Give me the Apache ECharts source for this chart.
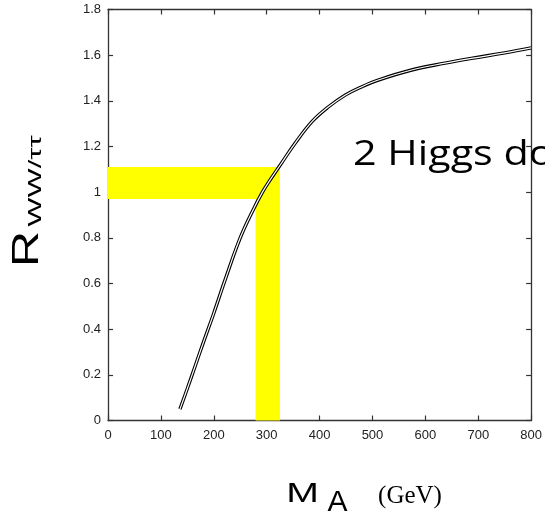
<!DOCTYPE html>
<html>
<head>
<meta charset="utf-8">
<script src="https://cdn.jsdelivr.net/npm/echarts@6/dist/echarts.min.js"></script>
<style>html,body{margin:0;padding:0;background:#fff;}#c{width:545px;height:520px;}</style>
</head>
<body>
<div id="c"></div>
<script>
// ---- data ----
const massGeV = [136, 150, 165, 180, 200, 222, 250, 276, 292, 304, 326, 354, 386, 417, 449, 480, 511, 574, 637, 687, 750, 800];
const ratioWWtautau = [0.05, 0.14, 0.24, 0.34, 0.47, 0.62, 0.80, 0.93, 1.00, 1.045, 1.12, 1.215, 1.31, 1.374, 1.426, 1.462, 1.491, 1.535, 1.565, 1.586, 1.61, 1.632];
const hBandX = [0, 325];
const hBandY = [0.97, 1.11];
const vBandX = [279, 325];
const vBandY = [0, 0.97];
const xTicks = [0, 800, 100];
const yTicks = [0, 1.8, 0.2];

const curve = massGeV.map((m, i) => [m, ratioWWtautau[i]]);
const axisCol = '#333';
const labelFont = {fontFamily: 'Liberation Sans', fontSize: 13, color: '#222'};

function xAx(pos, labels) {
  return {
    type: 'value', position: pos, min: xTicks[0], max: xTicks[1], interval: xTicks[2],
    axisLine: {show: true, onZero: false, lineStyle: {color: axisCol, width: 1.3}},
    axisTick: {show: true, inside: true, length: 5, lineStyle: {color: axisCol, width: 1.2}},
    axisLabel: Object.assign({show: labels, margin: 8}, labelFont),
    splitLine: {show: false}
  };
}
function yAx(pos, labels) {
  return {
    type: 'value', position: pos, min: yTicks[0], max: yTicks[1], interval: yTicks[2],
    axisLine: {show: true, onZero: false, lineStyle: {color: axisCol, width: 1.3}},
    axisTick: {show: true, inside: true, length: 5, lineStyle: {color: axisCol, width: 1.2}},
    axisLabel: Object.assign({show: labels, margin: 7}, labelFont),
    splitLine: {show: false}
  };
}

const chart = echarts.init(document.getElementById('c'), null, {renderer: 'canvas'});
chart.setOption({
  animation: false,
  backgroundColor: '#fff',
  grid: {left: 108, top: 9.5, right: 12, bottom: 99.5},
  xAxis: [xAx('bottom', true), xAx('top', false)],
  yAxis: [yAx('left', true), yAx('right', false)],
  series: [
    {
      type: 'line', data: curve, smooth: 0.4, symbol: 'none', z: 3,
      lineStyle: {color: '#000', width: 3.4},
      markArea: {
        silent: true,
        itemStyle: {color: '#ffff00', opacity: 1},
        data: [
          [{xAxis: hBandX[0], yAxis: hBandY[0]}, {xAxis: hBandX[1], yAxis: hBandY[1]}],
          [{xAxis: vBandX[0], yAxis: vBandY[0]}, {xAxis: vBandX[1], yAxis: vBandY[1]}]
        ]
      }
    },
    {
      type: 'line', data: curve, smooth: 0.4, symbol: 'none', z: 4,
      lineStyle: {color: '#fff', width: 1.2}
    }
  ],
  graphic: [
    {type: 'text', left: 353, top: 138, scaleX: 1.18, z: 10,
     style: {text: '2 Higgs doublet', fontFamily: 'Open Sans', fontSize: 35, fill: '#000'}},
    {type: 'text', x: 28, y: 249, rotation: Math.PI / 2, scaleX: 1.4, z: 10,
     style: {text: 'R', fontFamily: 'Liberation Sans', fontSize: 36, fill: '#000', align: 'center', verticalAlign: 'middle'}},
    {type: 'text', x: 36, y: 181, rotation: Math.PI / 2, scaleX: 1.72, z: 10,
     style: {text: 'WW/ττ', fontFamily: 'Liberation Sans', fontSize: 18, fill: '#000', align: 'center', verticalAlign: 'middle'}},
    {type: 'text', x: 302.5, y: 494, scaleX: 1.4, z: 10,
     style: {text: 'M', fontFamily: 'Liberation Sans', fontSize: 28, fill: '#000', align: 'center', verticalAlign: 'middle'}},
    {type: 'text', x: 337.5, y: 503, z: 10,
     style: {text: 'A', fontFamily: 'Liberation Sans', fontSize: 30, fill: '#000', align: 'center', verticalAlign: 'middle'}},
    {type: 'text', x: 410, y: 496, z: 10,
     style: {text: '(GeV)', fontFamily: 'Liberation Serif', fontSize: 25, fill: '#000', align: 'center', verticalAlign: 'middle'}}
  ]
});
</script>
</body>
</html>
